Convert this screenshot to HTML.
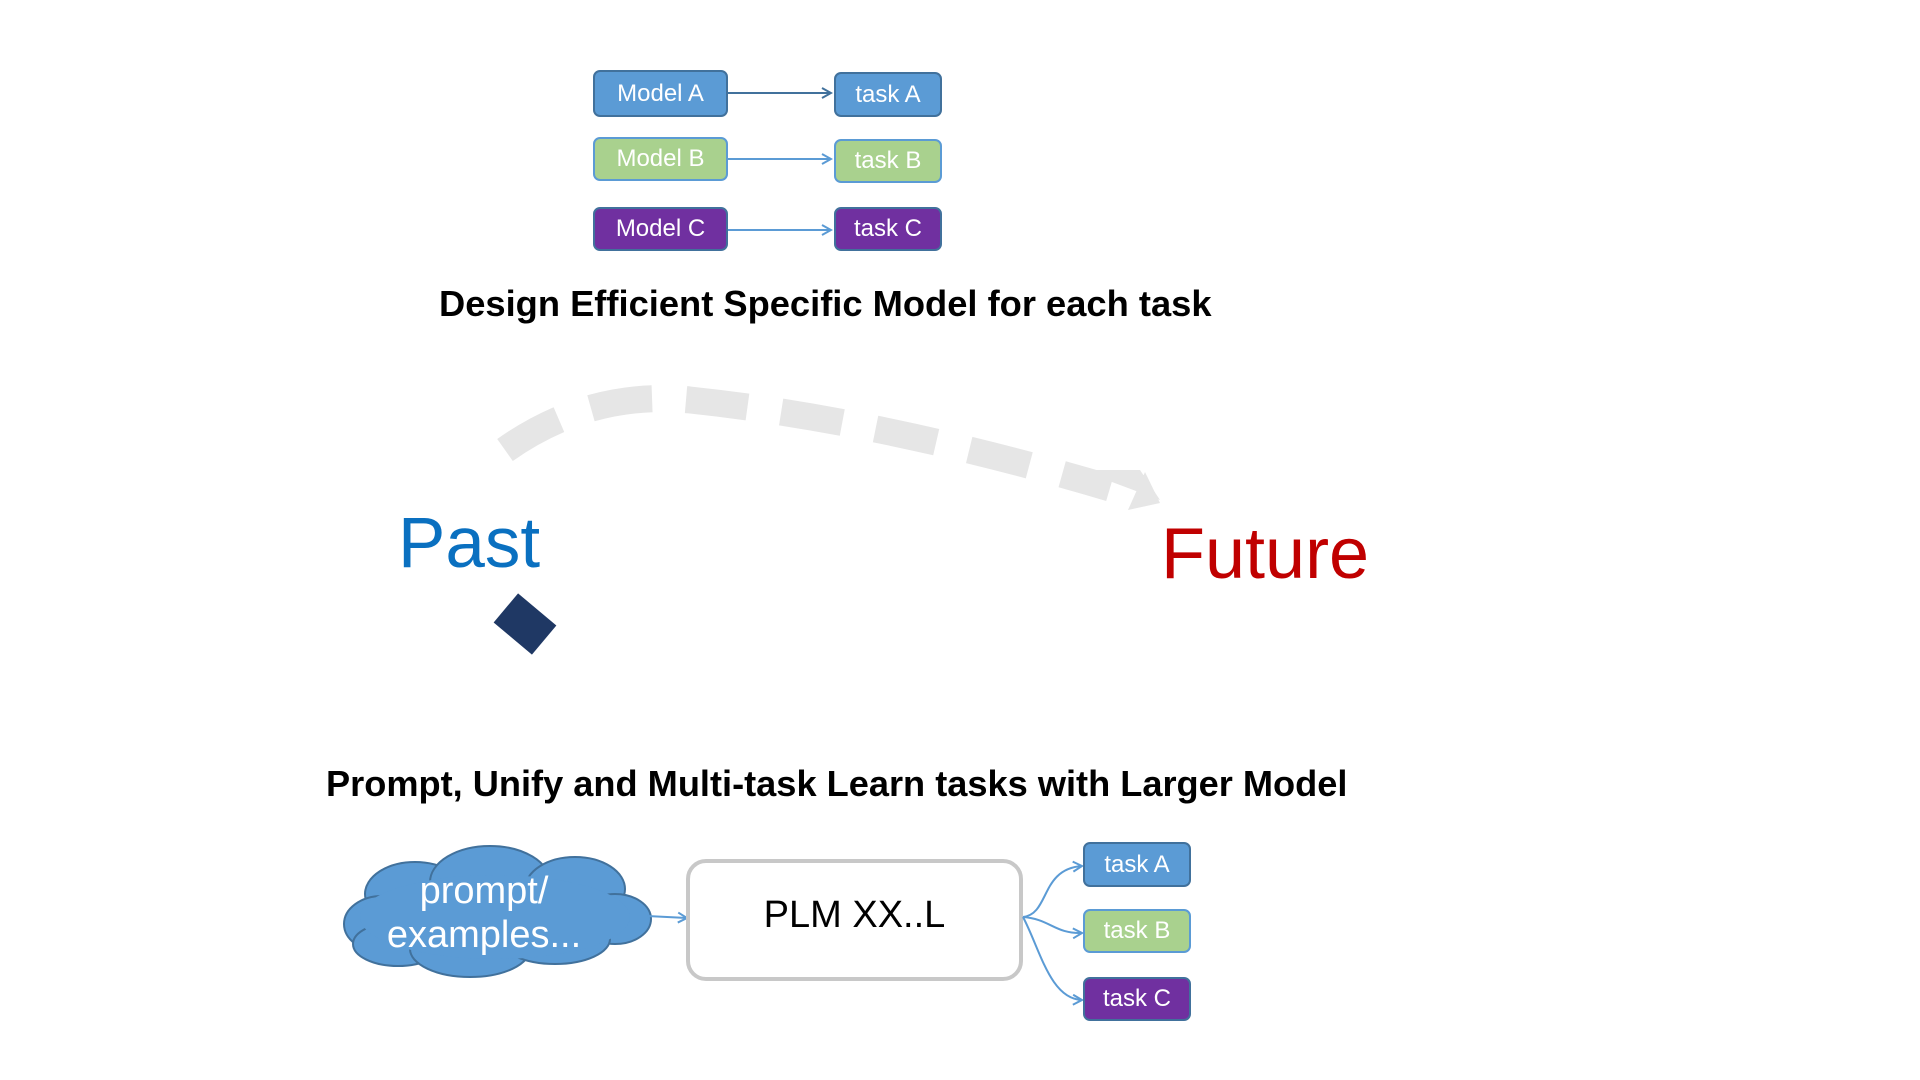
<!DOCTYPE html>
<html><head><style>
body{margin:0;width:1920px;height:1080px;background:#fff;position:relative;overflow:hidden;font-family:"Liberation Sans",Arial,sans-serif}
.b{position:absolute;box-sizing:border-box;border-radius:7px;color:#fff;display:flex;align-items:center;justify-content:center;font-size:24px}
.bl{background:#5b9bd5;border:2px solid #41719c}
.gr{background:#a9d18e;border:2px solid #5b9bd5}
.pu{background:#7030a0;border:2px solid #41719c}
.t{position:absolute;white-space:nowrap}
</style></head><body>
<div class="b bl" style="left:593px;top:70px;width:135px;height:47px">Model A</div>
<div class="b bl" style="left:834px;top:72px;width:108px;height:45px">task A</div>
<div class="b gr" style="left:593px;top:137px;width:135px;height:44px">Model B</div>
<div class="b gr" style="left:834px;top:139px;width:108px;height:44px">task B</div>
<div class="b pu" style="left:593px;top:207px;width:135px;height:44px">Model C</div>
<div class="b pu" style="left:834px;top:207px;width:108px;height:44px">task C</div>
<div class="t" style="left:439px;top:283px;font-size:36.3px;font-weight:bold">Design Efficient Specific Model for each task</div>
<div class="t" style="left:398px;top:503px;font-size:71px;color:#0a70c0">Past</div>
<div class="t" style="left:1161px;top:513px;font-size:72px;color:#c00000">Future</div>
<div class="t" style="left:326px;top:763px;font-size:36.2px;font-weight:bold">Prompt, Unify and Multi-task Learn tasks with Larger Model</div>
<svg style="position:absolute;left:0;top:0" width="1920" height="1080">
<defs><marker id="a" markerWidth="12" markerHeight="12" refX="10" refY="6" orient="auto" markerUnits="userSpaceOnUse"><path d="M1,1 L10,6 L1,11" fill="none" stroke="#5b9bd5" stroke-width="2"/></marker>
<marker id="a2" markerWidth="12" markerHeight="12" refX="10" refY="6" orient="auto" markerUnits="userSpaceOnUse"><path d="M1,1 L10,6 L1,11" fill="none" stroke="#41719c" stroke-width="2"/></marker></defs>
<line x1="728" y1="93" x2="831" y2="93" stroke="#41719c" stroke-width="2" marker-end="url(#a2)"/>
<line x1="728" y1="159" x2="831" y2="159" stroke="#5b9bd5" stroke-width="2" marker-end="url(#a)"/>
<line x1="728" y1="230" x2="831" y2="230" stroke="#5b9bd5" stroke-width="2" marker-end="url(#a)"/>
<path d="M505,450 Q590,390 690,400 Q880,420 1110,488" fill="none" stroke="#e6e6e6" stroke-width="27" stroke-dasharray="62,34"/>
<polygon points="1080,470 1160,500 1140,470" fill="#e6e6e6"/>
<polygon points="1145,472 1160,503 1128,510" fill="#e6e6e6"/>
<rect x="500" y="605" width="50" height="38" fill="#1f3864" transform="rotate(40 525 624)"/>
<g transform="translate(-10,-11)">
<g fill="#5b9bd5" stroke="#41719c" stroke-width="2">
<ellipse cx="425" cy="905" rx="50" ry="32"/><ellipse cx="500" cy="893" rx="60" ry="36"/><ellipse cx="585" cy="900" rx="50" ry="32"/>
<ellipse cx="625" cy="930" rx="36" ry="25"/><ellipse cx="392" cy="935" rx="38" ry="28"/><ellipse cx="408" cy="955" rx="45" ry="22"/>
<ellipse cx="480" cy="960" rx="60" ry="28"/><ellipse cx="565" cy="950" rx="55" ry="25"/>
</g>
<ellipse cx="505" cy="928" rx="135" ry="42" fill="#5b9bd5"/>
<line x1="657" y1="927" x2="697" y2="929" stroke="#5b9bd5" stroke-width="2" marker-end="url(#a)"/>
<rect x="698" y="872" width="333" height="118" rx="18" fill="#fff" stroke="#c8c8c8" stroke-width="4"/>
<path d="M1033,928 C1060,925 1050,880 1092,877" fill="none" stroke="#5b9bd5" stroke-width="2" marker-end="url(#a)"/>
<path d="M1033,928 C1060,930 1065,945 1092,944" fill="none" stroke="#5b9bd5" stroke-width="2" marker-end="url(#a)"/>
<path d="M1033,928 C1050,960 1060,1010 1092,1011" fill="none" stroke="#5b9bd5" stroke-width="2" marker-end="url(#a)"/>
</g>
</svg>
<div class="t" style="left:374px;top:869px;width:220px;text-align:center;font-size:38px;color:#fff;line-height:44px">prompt/<br>examples...</div>
<div class="t" style="left:688px;top:894px;width:333px;text-align:center;font-size:38px">PLM XX..L</div>
<div class="b bl" style="left:1083px;top:842px;width:108px;height:45px">task A</div>
<div class="b gr" style="left:1083px;top:909px;width:108px;height:44px">task B</div>
<div class="b pu" style="left:1083px;top:977px;width:108px;height:44px">task C</div>
</body></html>
